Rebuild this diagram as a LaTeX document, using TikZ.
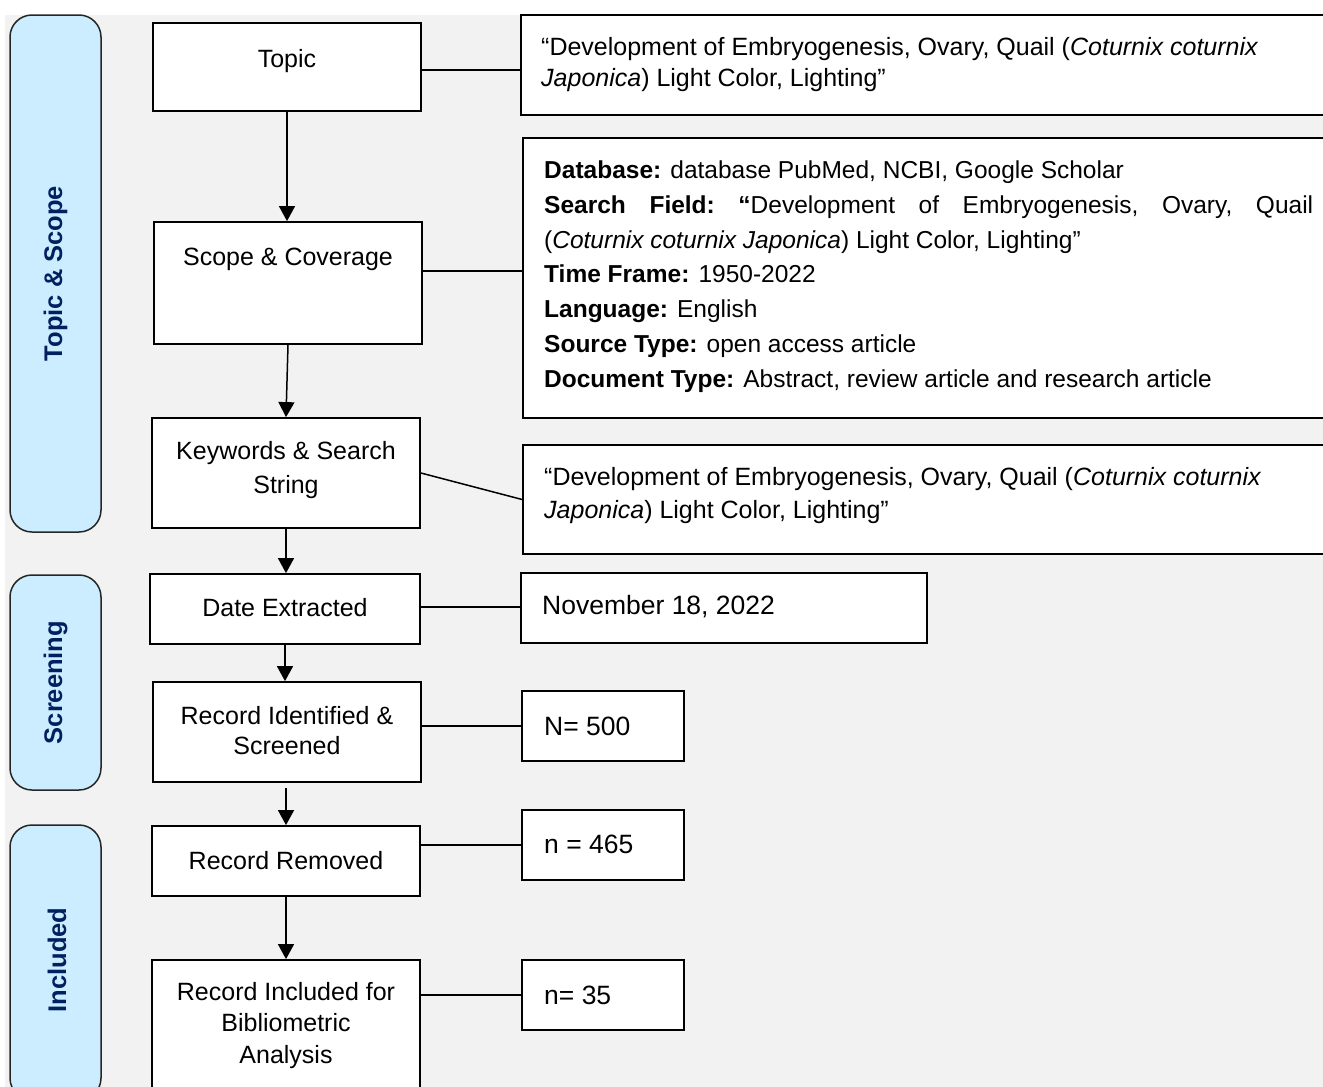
\documentclass[tikz,border=0pt]{standalone}
\usepackage{fontspec}
\setmainfont{Liberation Sans}
\usetikzlibrary{arrows.meta,calc}
\definecolor{bggray}{HTML}{F2F2F2}
\definecolor{sidefill}{HTML}{CCECFF}
\definecolor{navy}{RGB}{0,32,96}
\tikzset{
  mbox/.style={draw=black, line width=1.8pt, fill=white, inner sep=0pt},
  sidebox/.style={draw=black!85, line width=1.5pt, fill=sidefill, rounded corners=22pt, inner sep=0pt},
  sidetxt/.style={text=navy, font=\fontsize{25.5}{30}\selectfont\bfseries, rotate=90, inner sep=0pt},
  mtext/.style={font=\fontsize{25}{31}\selectfont, align=center, inner sep=0pt},
  rtext/.style={font=\fontsize{25}{34.5}\selectfont, align=left, anchor=west, inner sep=0pt},
  conn/.style={line width=1.5pt, draw=black},
  arr/.style={line width=1.5pt, draw=black, -{Triangle[width=16pt,length=15pt]}}
}
\begin{document}
\begin{tikzpicture}[x=1pt,y=-1pt]
\clip (0,0) rectangle (1323,1087);
\fill[white] (0,0) rectangle (1323,1087);
\fill[bggray] (5,15) rectangle (1340,1110);
% side labels
\node[sidebox, minimum width=91pt, minimum height=517pt] (s1) at (55.5,273.5) {};
\node[sidetxt] (s1t) at (s1.center) {Topic \& Scope};
\node[sidebox, minimum width=91pt, minimum height=215pt] (s2) at (55.5,682.5) {};
\node[sidetxt] (s2t) at (s2.center) {Screening};
\node[sidebox, minimum width=91pt, minimum height=275pt] (s3) at (55.5,962.5) {};
\node[sidetxt] (s3t) at (57,960) {Included};
% main boxes
\node[mbox, minimum width=268pt, minimum height=88pt] (topic) at (287,67) {};
\node[mtext] (topict) at (287,61) {Topic};
\node[mbox, minimum width=268pt, minimum height=122pt] (scope) at (288,283) {};
\node[mtext] (scopet) at (288,259) {Scope \& Coverage};
\node[mbox, minimum width=268pt, minimum height=110pt] (kw) at (286,473) {};
\node[mtext, font=\fontsize{25}{34}\selectfont] (kwt) at (286,470) {Keywords \& Search\\String};
\node[mbox, minimum width=270pt, minimum height=70pt] (date) at (285,609) {};
\node[mtext] (datet) at (285,608) {Date Extracted};
\node[mbox, minimum width=268pt, minimum height=100pt] (rid) at (287,732) {};
\node[mtext, font=\fontsize{25}{30}\selectfont] (ridt) at (287,731) {Record Identified \&\\Screened};
\node[mbox, minimum width=268pt, minimum height=70pt] (rem) at (286,861) {};
\node[mtext] (remt) at (286,861) {Record Removed};
\node[mbox, minimum width=268pt, minimum height=150pt] (inc) at (286,1035) {};
\node[mtext, font=\fontsize{25}{31.5}\selectfont] (inct) at (286,1025.5) {Record Included for\\Bibliometric\\Analysis};
% right boxes
\node[mbox, minimum width=819pt, minimum height=100pt] (r1) at (930.5,65) {};
\node[rtext, font=\fontsize{25}{31}\selectfont] (r1t) at (541,64.5) {“Development of Embryogenesis, Ovary, Quail (\textit{Coturnix coturnix}\\\textit{Japonica}) Light Color, Lighting”};
\node[mbox, minimum width=817pt, minimum height=280pt] (r2) at (931.5,278) {};
\node[rtext, font=\fontsize{24.5}{34.8}\selectfont] (r2t) at (544,276.5) {\textbf{Database:} database PubMed, NCBI, Google Scholar\\
\hbox to 769pt{\textbf{Search}\hfill\textbf{Field:}\hfill\textbf{“}Development\hfill of\hfill Embryogenesis,\hfill Ovary,\hfill Quail}\\
(\textit{Coturnix coturnix Japonica}) Light Color, Lighting”\\
\textbf{Time Frame:} 1950-2022\\
\textbf{Language:} English\\
\textbf{Source Type:} open access article\\
\textbf{Document Type:} Abstract, review article and research article};
\node[mbox, minimum width=817pt, minimum height=109pt] (r3) at (931.5,499.5) {};
\node[rtext, font=\fontsize{25}{33}\selectfont] (r3t) at (544,495.5) {“Development of Embryogenesis, Ovary, Quail (\textit{Coturnix coturnix}\\\textit{Japonica}) Light Color, Lighting”};
\node[mbox, minimum width=406pt, minimum height=70pt] (r4) at (724,608) {};
\node[rtext, font=\fontsize{26.5}{30}\selectfont] (r4t) at (542,607) {November 18, 2022};
\node[mbox, minimum width=162pt, minimum height=70pt] (r5) at (603,726) {};
\node[rtext, font=\fontsize{26.5}{30}\selectfont] (r5t) at (544,726) {N= 500};
\node[mbox, minimum width=162pt, minimum height=70pt] (r6) at (603,845) {};
\node[rtext, font=\fontsize{26.5}{30}\selectfont] (r6t) at (544,844) {n = 465};
\node[mbox, minimum width=162pt, minimum height=70pt] (r7) at (603,995) {};
\node[rtext, font=\fontsize{26.5}{30}\selectfont] (r7t) at (544,995) {n= 35};
% vertical arrows
\draw[arr] (topic.south) -- (topic.south |- scope.north);
\draw[arr] (scope.south) -- (kw.north);
\draw[arr] (kw.south) -- (kw.south |- date.north);
\draw[arr] (date.south) -- (date.south |- rid.north);
\draw[arr, shorten <=5pt] (rem.north |- rid.south) -- (rem.north);
\draw[arr] (rem.south) -- (rem.south |- inc.north);
% horizontal connectors
\draw[conn] ([yshift=-3pt]topic.east) -- ([yshift=-3pt]topic.east -| r1.west);
\draw[conn] ([yshift=12pt]scope.east) -- ([yshift=12pt]scope.east -| r2.west);
\draw[conn] (kw.east) -- (r3.west);
\draw[conn] ([yshift=2pt]date.east) -- ([yshift=2pt]date.east -| r4.west);
\draw[conn] (rid.east |- r5.west) -- (r5.west);
\draw[conn] (rem.east |- r6.west) -- (r6.west);
\draw[conn] (inc.east |- r7.west) -- (r7.west);
\end{tikzpicture}
\end{document}
